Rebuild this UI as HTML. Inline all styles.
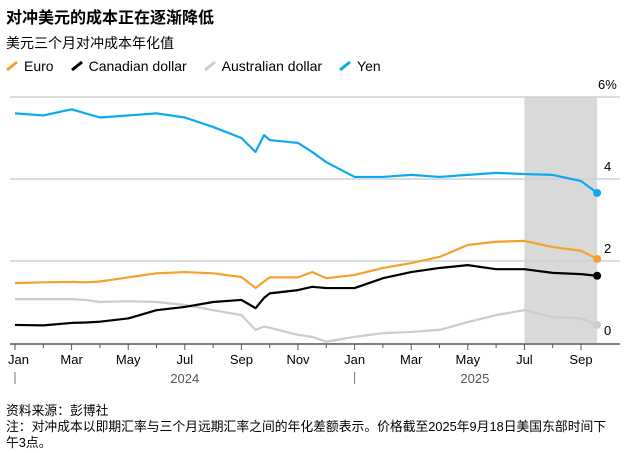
<!DOCTYPE html>
<html><head><meta charset="utf-8">
<style>
body{margin:0;background:#fff;width:639px;height:453px;overflow:hidden;font-family:"Liberation Sans","Noto Sans CJK SC",sans-serif;color:#000}
.t{position:absolute;left:6px;top:4px;font-size:16px;font-weight:bold}
.s{position:absolute;left:6px;top:33px;font-size:14px}
.lg{position:absolute;left:6px;top:58px;font-size:14px;display:flex;gap:17px}
.lg span{display:flex;align-items:center;gap:6px}
.f{position:absolute;left:6px;top:403px;font-size:12.8px;line-height:16px;width:608px}
</style></head><body>
<div class="t">对冲美元的成本正在逐渐降低</div>
<div class="s">美元三个月对冲成本年化值</div>
<div class="lg">
<span><svg width="12" height="10"><path d="M1 9 L11 1" stroke="#f7a030" stroke-width="3"/></svg>Euro</span>
<span><svg width="12" height="10"><path d="M1 9 L11 1" stroke="#000" stroke-width="3"/></svg>Canadian dollar</span>
<span><svg width="12" height="10"><path d="M1 9 L11 1" stroke="#ccc" stroke-width="3"/></svg>Australian dollar</span>
<span><svg width="12" height="10"><path d="M1 9 L11 1" stroke="#0aaaf0" stroke-width="3"/></svg>Yen</span>
</div>
<svg id="c" width="639" height="400" style="position:absolute;left:0;top:0"></svg>
<div class="f">资料来源：彭博社<br>注：对冲成本以即期汇率与三个月远期汇率之间的年化差额表示。价格截至2025年9月18日美国东部时间下午3点。</div>
<script>
// month index since Jan 1 2024
const months=[0,1,2,2.5,3,4,5,6,7,8,8.5,8.8,9,10,10.5,11,12,13,14,15,16,17,18,19,20,20.57];
const yen=[5.6,5.55,5.7,5.6,5.5,5.55,5.6,5.5,5.27,5.0,4.66,5.07,4.95,4.88,4.66,4.41,4.05,4.05,4.1,4.05,4.1,4.15,4.12,4.1,3.95,3.66];
const euro=[1.46,1.48,1.49,1.48,1.5,1.6,1.7,1.73,1.7,1.61,1.34,1.5,1.6,1.6,1.73,1.58,1.66,1.83,1.95,2.1,2.39,2.47,2.49,2.34,2.25,2.05];
const cad=[0.44,0.43,0.49,0.5,0.52,0.6,0.8,0.88,1.0,1.05,0.85,1.1,1.21,1.29,1.37,1.34,1.34,1.58,1.73,1.83,1.9,1.8,1.8,1.71,1.68,1.64];
const aud=[1.07,1.07,1.07,1.05,1.0,1.02,1.0,0.93,0.8,0.68,0.32,0.4,0.37,0.2,0.15,0.03,0.15,0.24,0.27,0.32,0.51,0.68,0.8,0.63,0.6,0.44];
const yTicks=[0,2,4,6];
const xLabels=["Jan","Mar","May","Jul","Sep","Nov","Jan","Mar","May","Jul","Sep"];
const NS="http://www.w3.org/2000/svg";
const svg=document.getElementById('c');
const X=m=>15+m*28.3, Y=v=>343-v*41;
function el(t,a){const e=document.createElementNS(NS,t);for(const k in a)e.setAttribute(k,a[k]);svg.appendChild(e);return e;}
const sh=el('rect',{x:X(18),y:97,width:X(20.57)-X(18),height:246,fill:'#d9d9d9'});


yTicks.forEach(v=>{
 if(v>0){const g=el('line',{x1:10,x2:620,y1:Y(v),y2:Y(v),stroke:'#d0d0d0','stroke-width':1.5});
 
 }
 const t=el('text',{x:v==6?598:604,y:Y(v)-8,'font-size':13,'font-family':'Liberation Sans'});
 t.textContent=v==6?'6%':v;
 
 
});
const ax=el('line',{x1:10,x2:620,y1:344,y2:344,stroke:'#555','stroke-width':1.5});


for(let m=0;m<=20;m++){const tk=el('line',{x1:X(m),x2:X(m),y1:344,y2:m%2==0?350:348,stroke:'#555'});
 
 }
xLabels.forEach((l,i)=>{const t=el('text',{x:X(i*2)+(i==0?-7:0),y:364,'font-size':13,'text-anchor':i==0?'start':'middle','font-family':'Liberation Sans'});
 t.textContent=l;
 
 });
[[0,'2024',6],[12,'2025',16.25]].forEach(([m,y,c])=>{
 const d=el('line',{x1:X(m),x2:X(m),y1:372,y2:384,stroke:'#777'});
 
 
 const t=el('text',{x:X(c),y:383,'font-size':13,fill:'#555','text-anchor':'middle','font-family':'Liberation Sans'});
 t.textContent=y;
 
 });
[[aud,'#cccccc','australian'],[euro,'#f7a030','euro'],[cad,'#000000','canadian'],[yen,'#0aaaf0','yen']].forEach(([s,c,n])=>{
 const p=el('polyline',{points:s.map((v,i)=>X(months[i])+','+Y(v)).join(' '),fill:'none',stroke:c,'stroke-width':2.2,'stroke-linejoin':'round'});
 
 
 const d=el('circle',{cx:X(months[months.length-1]),cy:Y(s[s.length-1]),r:4,fill:c});
 
 
});
</script>
</body></html>
